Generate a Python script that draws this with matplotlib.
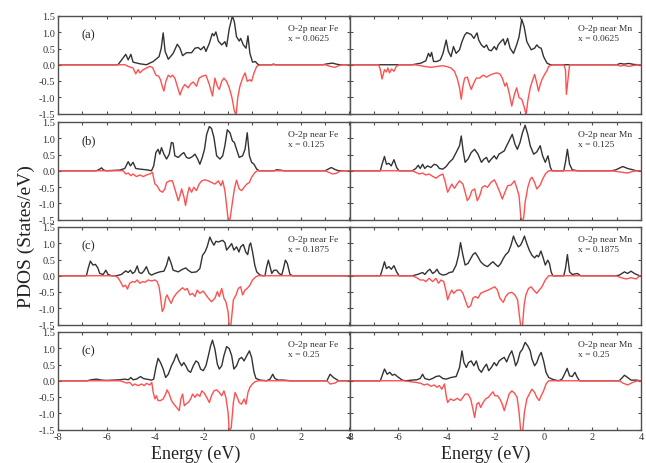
import numpy as np
import matplotlib
matplotlib.use('Agg')
import matplotlib.pyplot as plt
from matplotlib.ticker import MultipleLocator, FormatStrFormatter

plt.rcParams['font.family'] = ['Liberation Serif', 'DejaVu Serif']
plt.rcParams['axes.unicode_minus'] = False

# ---------------- data (energy in eV, PDOS in states/eV) ----------------
panel_labels = ['(a)', '(b)', '(c)', '(c)']
concentrations = ['0.0625', '0.125', '0.1875', '0.25']
sites = ['Fe', 'Mn']

fe_a_up = np.array([[-8,0],[-5.53,0],[-5.21,0.32],[-5.11,0.15],[-5.00,0.32],[-4.91,0.08],[-4.63,0.03],[-4.36,0.0],[-4.08,0.10],[-3.84,0.25],[-3.75,0.51],[-3.67,0.98],[-3.59,0.41],[-3.46,0.17],[-3.26,0.35],[-3.09,0.63],[-2.98,0.51],[-2.87,0.28],[-2.71,0.37],[-2.50,0.37],[-2.36,0.51],[-2.23,0.53],[-2.12,0.46],[-1.99,0.56],[-1.91,0.41],[-1.77,0.66],[-1.65,0.96],[-1.58,0.89],[-1.50,1.01],[-1.40,0.73],[-1.26,0.61],[-1.13,0.71],[-1.06,0.56],[-0.95,1.11],[-0.82,1.50],[-0.74,1.32],[-0.65,0.86],[-0.54,0.73],[-0.48,0.81],[-0.37,0.61],[-0.26,0.51],[-0.18,0.89],[-0.10,0.35],[0.01,0.08],[0.12,0.10],[0.25,0],[0.8,0],[0.87,0.02],[0.95,0],[2.9,0],[3.1,0.03],[3.3,0.05],[3.45,0.02],[3.6,0],[4,0]])
fe_a_dn = np.array([[-8,0],[-5.25,0],[-5.11,-0.05],[-4.91,-0.10],[-4.80,-0.28],[-4.70,-0.15],[-4.63,-0.25],[-4.49,-0.15],[-4.36,-0.10],[-4.22,-0.05],[-4.11,-0.08],[-3.97,-0.32],[-3.86,-0.35],[-3.78,-0.46],[-3.71,-0.66],[-3.64,-0.81],[-3.56,-0.51],[-3.46,-0.32],[-3.37,-0.38],[-3.29,-0.32],[-3.19,-0.41],[-3.09,-0.66],[-2.98,-0.93],[-2.87,-0.71],[-2.78,-0.61],[-2.64,-0.71],[-2.54,-0.59],[-2.43,-0.53],[-2.30,-0.66],[-2.19,-0.41],[-2.05,-0.35],[-1.91,-0.32],[-1.77,-0.61],[-1.64,-0.96],[-1.54,-0.41],[-1.44,-0.66],[-1.36,-0.76],[-1.26,-0.51],[-1.17,-0.41],[-1.06,-0.51],[-0.95,-0.71],[-0.84,-1.01],[-0.74,-1.42],[-0.67,-1.55],[-0.60,-1.01],[-0.51,-0.66],[-0.40,-0.41],[-0.30,-0.25],[-0.21,-0.51],[-0.10,-0.46],[-0.03,-0.51],[0.07,-0.25],[0.18,-0.05],[0.32,0],[3.0,0],[3.2,-0.05],[3.4,-0.08],[3.55,-0.03],[3.7,0],[4,0]])
mn_a_up = np.array([[-8,0],[-5.41,0],[-5.06,0.05],[-4.86,0.12],[-4.75,0.35],[-4.68,0.25],[-4.62,0.38],[-4.54,0.10],[-4.40,0.10],[-4.26,0.15],[-4.15,0.35],[-4.02,0.76],[-3.93,0.41],[-3.82,0.25],[-3.72,0.56],[-3.61,0.35],[-3.47,0.46],[-3.37,0.71],[-3.26,0.91],[-3.17,0.99],[-2.99,0.93],[-2.88,0.81],[-2.75,0.98],[-2.68,0.76],[-2.57,0.61],[-2.46,0.53],[-2.36,0.61],[-2.27,0.46],[-2.16,0.43],[-2.04,0.56],[-1.95,0.46],[-1.88,0.61],[-1.77,0.71],[-1.67,0.79],[-1.60,0.61],[-1.49,0.81],[-1.39,0.51],[-1.25,0.35],[-1.12,0.61],[-1.02,0.86],[-0.91,1.40],[-0.81,1.17],[-0.70,0.71],[-0.52,0.46],[-0.38,0.51],[-0.29,0.61],[-0.19,0.53],[-0.11,0.51],[-0.01,0.25],[0.13,0.05],[0.27,0],[3.0,0],[3.15,0.04],[3.3,0.02],[3.5,0.04],[3.7,0.01],[3.9,0],[4,0]])
mn_a_dn = np.array([[-8,0],[-6.80,0],[-6.73,-0.15],[-6.66,-0.44],[-6.56,-0.15],[-6.48,-0.22],[-6.42,-0.10],[-6.35,-0.25],[-6.27,-0.13],[-6.17,-0.20],[-6.07,-0.05],[-5.96,0],[-5.34,0],[-5.13,-0.02],[-4.93,-0.05],[-4.65,-0.08],[-4.37,-0.05],[-4.16,-0.03],[-4.02,-0.05],[-3.82,-0.10],[-3.68,-0.20],[-3.57,-0.41],[-3.47,-0.71],[-3.40,-1.06],[-3.33,-0.66],[-3.26,-0.41],[-3.15,-0.38],[-3.06,-0.61],[-2.99,-0.76],[-2.88,-0.56],[-2.78,-0.41],[-2.64,-0.41],[-2.50,-0.32],[-2.36,-0.38],[-2.22,-0.32],[-2.09,-0.28],[-1.95,-0.25],[-1.81,-0.28],[-1.71,-0.41],[-1.60,-0.66],[-1.53,-0.56],[-1.43,-0.86],[-1.32,-1.27],[-1.21,-0.91],[-1.12,-0.71],[-1.02,-1.01],[-0.91,-1.06],[-0.80,-1.32],[-0.73,-1.55],[-0.66,-1.11],[-0.56,-0.71],[-0.47,-0.49],[-0.38,-0.30],[-0.29,-0.56],[-0.22,-0.81],[-0.15,-0.61],[-0.08,-0.46],[0.03,-0.30],[0.13,-0.18],[0.20,-0.05],[0.34,0],[0.82,0],[0.89,-0.15],[0.93,-0.91],[1.00,-0.41],[1.06,0],[3.0,0],[3.15,-0.04],[3.3,-0.02],[3.5,-0.05],[3.7,-0.02],[3.9,0],[4,0]])

fe_b_up = np.array([[-8,0],[-6.42,0],[-6.28,0.05],[-6.21,0.09],[-6.12,0.02],[-6.0,0],[-5.46,0.02],[-5.25,0.07],[-5.11,0.28],[-5.02,0.15],[-4.91,0.26],[-4.80,0.07],[-4.63,0.05],[-4.36,0.03],[-4.15,0],[-4.06,0.15],[-3.97,0.56],[-3.88,0.66],[-3.81,0.51],[-3.74,0.71],[-3.64,0.51],[-3.53,0.36],[-3.42,0.51],[-3.33,0.87],[-3.26,0.85],[-3.19,0.46],[-3.05,0.41],[-2.91,0.51],[-2.82,0.56],[-2.71,0.41],[-2.60,0.38],[-2.46,0.44],[-2.36,0.51],[-2.25,0.36],[-2.16,0.20],[-2.06,0.41],[-1.97,0.66],[-1.88,1.12],[-1.77,1.36],[-1.68,1.30],[-1.58,1.02],[-1.47,0.46],[-1.33,0.36],[-1.22,0.46],[-1.13,0.77],[-1.03,1.26],[-0.92,1.17],[-0.82,0.92],[-0.74,0.87],[-0.65,0.66],[-0.54,0.41],[-0.40,0.46],[-0.30,0.66],[-0.21,1.17],[-0.12,0.46],[-0.03,0.26],[0.07,0.20],[0.18,0.05],[0.29,0],[0.9,0],[1.0,0.03],[1.15,0.02],[1.3,0],[3.0,0],[3.15,0.06],[3.25,0.10],[3.4,0.04],[3.55,0],[4,0]])
fe_b_dn = np.array([[-8,0],[-5.32,0],[-5.21,-0.10],[-5.11,-0.07],[-5.00,-0.15],[-4.91,-0.10],[-4.77,-0.18],[-4.63,-0.13],[-4.49,-0.18],[-4.36,-0.13],[-4.22,-0.10],[-4.11,-0.05],[-4.01,-0.41],[-3.92,-0.46],[-3.81,-0.61],[-3.70,-0.66],[-3.60,-0.56],[-3.53,-0.36],[-3.40,-0.31],[-3.29,-0.31],[-3.19,-0.56],[-3.05,-0.92],[-2.98,-0.77],[-2.91,-0.56],[-2.82,-0.79],[-2.75,-1.07],[-2.68,-0.77],[-2.60,-0.51],[-2.50,-0.66],[-2.41,-0.51],[-2.30,-0.61],[-2.19,-0.41],[-2.08,-0.31],[-1.95,-0.28],[-1.81,-0.31],[-1.68,-0.36],[-1.54,-0.41],[-1.40,-0.31],[-1.29,-0.46],[-1.22,-0.31],[-1.13,-0.61],[-1.06,-1.07],[-0.99,-1.55],[-0.92,-1.50],[-0.82,-0.97],[-0.74,-0.56],[-0.65,-0.29],[-0.54,-0.56],[-0.44,-0.61],[-0.34,-0.51],[-0.23,-0.41],[-0.12,-0.36],[-0.03,-0.20],[0.11,-0.05],[0.21,0],[3.0,0],[3.15,-0.05],[3.3,-0.10],[3.45,-0.08],[3.6,-0.02],[3.7,0],[4,0]])
mn_b_up = np.array([[-8,0],[-6.73,0],[-6.66,0.20],[-6.56,0.44],[-6.48,0.20],[-6.38,0.23],[-6.28,0.15],[-6.17,0.34],[-6.06,0.10],[-5.96,0],[-5.41,0],[-5.27,0.07],[-5.17,0.17],[-5.09,0.07],[-4.99,0.20],[-4.90,0.07],[-4.79,0.15],[-4.65,0.10],[-4.51,0.20],[-4.40,0.17],[-4.30,0.07],[-4.16,0.05],[-4.02,0.13],[-3.89,0.26],[-3.75,0.36],[-3.61,0.56],[-3.47,0.77],[-3.40,1.07],[-3.32,0.61],[-3.24,0.26],[-3.12,0.36],[-2.99,0.56],[-2.85,0.66],[-2.71,0.51],[-2.57,0.26],[-2.46,0.36],[-2.36,0.41],[-2.27,0.26],[-2.16,0.36],[-2.04,0.46],[-1.95,0.36],[-1.85,0.51],[-1.74,0.56],[-1.63,0.61],[-1.53,0.77],[-1.43,0.92],[-1.30,1.12],[-1.19,0.82],[-1.09,0.66],[-0.98,0.87],[-0.88,1.17],[-0.77,1.40],[-0.66,1.12],[-0.56,0.77],[-0.42,0.51],[-0.29,0.58],[-0.15,0.77],[-0.05,0.46],[0.06,0.26],[0.17,0.46],[0.27,0.10],[0.34,0],[0.82,0],[0.89,0.26],[0.97,0.66],[1.06,0.20],[1.17,0.03],[1.38,0],[2.8,0],[2.97,0.03],[3.25,0.13],[3.45,0.07],[3.66,0.03],[3.80,0],[4,0]])
mn_b_dn = np.array([[-8,0],[-5.41,0],[-5.27,-0.05],[-5.13,-0.10],[-4.99,-0.07],[-4.86,-0.13],[-4.72,-0.10],[-4.58,-0.17],[-4.44,-0.23],[-4.30,-0.15],[-4.16,-0.10],[-4.07,-0.31],[-3.96,-0.66],[-3.89,-0.56],[-3.79,-0.41],[-3.68,-0.54],[-3.57,-0.41],[-3.47,-0.31],[-3.33,-0.41],[-3.24,-0.66],[-3.15,-0.92],[-3.06,-0.82],[-2.96,-0.61],[-2.85,-0.56],[-2.74,-0.92],[-2.64,-0.77],[-2.54,-0.51],[-2.43,-0.46],[-2.32,-0.51],[-2.18,-0.36],[-2.04,-0.28],[-1.95,-0.41],[-1.81,-0.66],[-1.71,-0.87],[-1.60,-0.66],[-1.49,-0.46],[-1.35,-0.44],[-1.21,-0.31],[-1.12,-0.51],[-1.02,-0.77],[-0.95,-1.40],[-0.89,-1.55],[-0.83,-1.45],[-0.77,-0.97],[-0.66,-0.51],[-0.56,-0.26],[-0.49,-0.20],[-0.38,-0.36],[-0.29,-0.56],[-0.15,-0.44],[-0.05,-0.26],[0.06,-0.10],[0.20,0],[2.8,0],[2.97,-0.02],[3.25,-0.05],[3.45,-0.07],[3.66,-0.02],[3.80,0],[4,0]])

fe_c_up = np.array([[-8,0],[-6.83,0],[-6.76,0.22],[-6.67,0.45],[-6.56,0.33],[-6.46,0.35],[-6.36,0.24],[-6.28,0.07],[-6.14,0.04],[-6.03,0.17],[-5.94,0.04],[-5.80,0],[-5.59,0],[-5.39,0.04],[-5.21,0.15],[-5.11,0.10],[-5.02,0.17],[-4.93,0.07],[-4.84,0.12],[-4.74,0.30],[-4.66,0.10],[-4.56,0.07],[-4.47,0.14],[-4.36,0.28],[-4.25,0.07],[-4.15,0.02],[-4.01,0.07],[-3.81,0.12],[-3.64,0.14],[-3.53,0.33],[-3.44,0.58],[-3.34,0.38],[-3.26,0.17],[-3.05,0.12],[-2.87,0.20],[-2.74,0.24],[-2.64,0.17],[-2.50,0.10],[-2.30,0.12],[-2.16,0.22],[-2.05,0.63],[-1.95,0.73],[-1.86,0.89],[-1.75,1.19],[-1.66,1.04],[-1.58,0.94],[-1.50,1.06],[-1.40,1.04],[-1.22,1.09],[-1.13,1.02],[-1.06,0.79],[-0.95,0.89],[-0.85,0.99],[-0.76,0.79],[-0.65,0.89],[-0.55,0.73],[-0.48,0.89],[-0.37,0.96],[-0.27,0.73],[-0.19,0.65],[-0.12,0.94],[-0.07,1.01],[0.01,0.73],[0.10,0.33],[0.18,0.12],[0.32,0.02],[0.45,0],[0.52,0],[0.59,0.28],[0.66,0.48],[0.73,0.28],[0.80,0.07],[0.89,0.17],[1.00,0.17],[1.10,0.07],[1.21,0.02],[1.28,0.22],[1.36,0.48],[1.44,0.38],[1.55,0.04],[1.66,0],[4,0]])
fe_c_dn = np.array([[-8,0],[-5.66,0],[-5.53,-0.06],[-5.43,-0.18],[-5.32,-0.34],[-5.22,-0.29],[-5.14,-0.41],[-5.05,-0.23],[-4.93,-0.18],[-4.84,-0.20],[-4.74,-0.13],[-4.63,-0.23],[-4.52,-0.18],[-4.41,-0.20],[-4.29,-0.13],[-4.15,-0.16],[-4.01,-0.13],[-3.92,-0.18],[-3.84,-0.34],[-3.78,-0.64],[-3.71,-1.10],[-3.64,-1.00],[-3.57,-0.69],[-3.51,-0.59],[-3.42,-0.74],[-3.34,-0.85],[-3.26,-0.69],[-3.12,-0.54],[-2.98,-0.44],[-2.87,-0.37],[-2.76,-0.44],[-2.68,-0.39],[-2.57,-0.59],[-2.46,-0.54],[-2.36,-0.64],[-2.27,-0.44],[-2.16,-0.54],[-2.02,-0.47],[-1.91,-0.59],[-1.81,-0.69],[-1.68,-0.80],[-1.54,-0.69],[-1.44,-0.49],[-1.36,-0.64],[-1.26,-0.39],[-1.17,-0.69],[-1.09,-0.80],[-1.00,-1.10],[-0.95,-1.55],[-0.88,-1.50],[-0.78,-0.74],[-0.67,-0.59],[-0.58,-0.39],[-0.48,-0.34],[-0.40,-0.59],[-0.30,-0.44],[-0.21,-0.39],[-0.10,-0.29],[0.01,-0.13],[0.15,-0.03],[0.25,0],[4,0]])
mn_c_up = np.array([[-8,0],[-6.73,0],[-6.66,0.17],[-6.56,0.43],[-6.48,0.22],[-6.38,0.28],[-6.28,0.20],[-6.17,0.31],[-6.06,0.12],[-5.96,0],[-5.41,0],[-5.20,0.04],[-4.99,0.10],[-4.90,0.04],[-4.79,0.14],[-4.69,0.20],[-4.58,0.07],[-4.48,0.12],[-4.40,0.20],[-4.30,0.07],[-4.16,0.02],[-4.02,0.04],[-3.89,0.10],[-3.75,0.12],[-3.61,0.33],[-3.51,0.63],[-3.43,1.02],[-3.33,0.63],[-3.24,0.33],[-3.12,0.38],[-3.01,0.53],[-2.92,0.65],[-2.82,0.71],[-2.71,0.58],[-2.60,0.43],[-2.46,0.33],[-2.32,0.28],[-2.18,0.38],[-2.09,0.43],[-1.99,0.35],[-1.88,0.28],[-1.77,0.38],[-1.67,0.53],[-1.57,0.65],[-1.46,0.73],[-1.35,0.94],[-1.25,1.22],[-1.16,1.04],[-1.05,0.89],[-0.96,0.94],[-0.88,1.06],[-0.80,1.22],[-0.70,0.99],[-0.60,0.79],[-0.49,0.63],[-0.38,0.55],[-0.29,0.63],[-0.22,0.58],[-0.12,0.76],[-0.04,0.58],[0.06,0.33],[0.16,0.48],[0.23,0.38],[0.30,0.12],[0.37,0],[0.82,0],[0.89,0.22],[0.97,0.65],[1.06,0.12],[1.17,0.04],[1.38,0.07],[1.52,0],[2.97,0],[3.11,0.02],[3.32,0.12],[3.45,0.07],[3.59,0.14],[3.73,0.07],[3.94,0],[4,0]])
mn_c_dn = np.array([[-8,0],[-5.41,0],[-5.23,-0.06],[-5.09,-0.13],[-4.95,-0.13],[-4.86,-0.18],[-4.72,-0.08],[-4.58,-0.18],[-4.44,-0.08],[-4.34,-0.23],[-4.23,-0.13],[-4.12,-0.18],[-4.02,-0.49],[-3.96,-0.74],[-3.89,-0.59],[-3.79,-0.44],[-3.71,-0.54],[-3.57,-0.44],[-3.43,-0.44],[-3.33,-0.54],[-3.24,-0.74],[-3.12,-0.98],[-3.01,-0.92],[-2.92,-0.69],[-2.82,-0.64],[-2.71,-0.69],[-2.60,-0.54],[-2.46,-0.49],[-2.29,-0.44],[-2.16,-0.39],[-2.02,-0.34],[-1.91,-0.44],[-1.81,-0.69],[-1.67,-0.82],[-1.57,-0.64],[-1.46,-0.54],[-1.32,-0.51],[-1.19,-0.59],[-1.08,-0.74],[-1.01,-1.20],[-0.95,-1.55],[-0.88,-1.55],[-0.81,-0.90],[-0.74,-0.59],[-0.63,-0.39],[-0.52,-0.34],[-0.42,-0.44],[-0.29,-0.54],[-0.19,-0.44],[-0.08,-0.34],[0.06,-0.13],[0.20,0],[2.97,0],[3.18,-0.06],[3.39,-0.10],[3.59,-0.06],[3.80,-0.10],[3.94,0],[4,0]])

fe_d_up = np.array([[-8,0],[-6.80,0],[-6.63,0.03],[-6.42,0.05],[-6.21,0.02],[-6.00,0.01],[-5.73,0.02],[-5.46,0.03],[-5.25,0.05],[-5.11,0.03],[-5.00,0.10],[-4.91,0.03],[-4.77,0.05],[-4.60,0.13],[-4.49,0.07],[-4.36,0.05],[-4.15,0.02],[-4.06,0.05],[-3.97,0.41],[-3.88,0.69],[-3.78,0.56],[-3.67,0.36],[-3.57,0.10],[-3.46,0.20],[-3.33,0.46],[-3.23,0.61],[-3.12,0.82],[-3.02,0.61],[-2.91,0.46],[-2.82,0.56],[-2.74,0.46],[-2.64,0.31],[-2.54,0.26],[-2.43,0.46],[-2.32,0.61],[-2.23,0.56],[-2.13,0.36],[-2.02,0.31],[-1.91,0.46],[-1.81,0.77],[-1.72,1.07],[-1.64,1.25],[-1.54,0.97],[-1.44,0.51],[-1.36,0.36],[-1.26,0.46],[-1.17,0.77],[-1.06,1.05],[-0.95,0.99],[-0.85,0.77],[-0.76,0.36],[-0.65,0.46],[-0.54,0.67],[-0.44,0.72],[-0.34,0.61],[-0.23,0.77],[-0.12,0.92],[-0.03,0.72],[0.07,0.26],[0.15,0.07],[0.32,0.02],[0.59,0],[0.73,0.05],[0.84,0.20],[0.93,0.07],[1.07,0.02],[1.28,0.02],[1.55,0],[3.07,0],[3.20,0.20],[3.34,0.10],[3.55,0],[4,0]])
fe_d_dn = np.array([[-8,0],[-5.46,0],[-5.32,-0.03],[-5.18,-0.07],[-5.05,-0.05],[-4.93,-0.15],[-4.84,-0.10],[-4.70,-0.15],[-4.56,-0.10],[-4.45,-0.15],[-4.36,-0.08],[-4.22,-0.13],[-4.14,-0.05],[-4.08,-0.36],[-4.01,-0.56],[-3.95,-0.46],[-3.88,-0.61],[-3.78,-0.61],[-3.67,-0.56],[-3.57,-0.41],[-3.51,-0.28],[-3.42,-0.41],[-3.33,-0.61],[-3.23,-0.72],[-3.12,-0.82],[-3.01,-0.92],[-2.94,-0.56],[-2.87,-0.41],[-2.80,-0.77],[-2.74,-0.72],[-2.64,-0.67],[-2.54,-0.56],[-2.46,-0.41],[-2.36,-0.51],[-2.27,-0.41],[-2.16,-0.48],[-2.08,-0.31],[-1.98,-0.38],[-1.88,-0.51],[-1.77,-0.67],[-1.68,-0.46],[-1.58,-0.31],[-1.47,-0.28],[-1.36,-0.36],[-1.26,-0.46],[-1.17,-0.31],[-1.09,-0.51],[-1.00,-0.97],[-0.95,-1.55],[-0.87,-1.45],[-0.78,-0.67],[-0.71,-0.36],[-0.62,-0.51],[-0.54,-0.67],[-0.44,-0.72],[-0.34,-0.56],[-0.26,-0.72],[-0.18,-0.36],[-0.10,-0.20],[0.00,-0.10],[0.11,-0.03],[0.25,0],[3.07,0],[3.20,-0.10],[3.41,-0.07],[3.55,0],[4,0]])
mn_d_up = np.array([[-8,0],[-6.73,0],[-6.66,0.15],[-6.56,0.36],[-6.45,0.20],[-6.34,0.26],[-6.24,0.17],[-6.14,0.20],[-6.03,0.13],[-5.92,0.07],[-5.83,0.02],[-5.69,0],[-5.41,0.02],[-5.23,0.03],[-5.09,0.07],[-4.99,0.20],[-4.90,0.07],[-4.72,0.03],[-4.58,0.07],[-4.44,0.13],[-4.30,0.15],[-4.16,0.07],[-4.02,0.05],[-3.82,0.10],[-3.61,0.13],[-3.47,0.41],[-3.37,0.92],[-3.29,0.56],[-3.19,0.41],[-3.10,0.56],[-2.99,0.61],[-2.88,0.46],[-2.78,0.61],[-2.68,0.36],[-2.57,0.26],[-2.46,0.41],[-2.36,0.51],[-2.27,0.31],[-2.16,0.41],[-2.04,0.56],[-1.95,0.46],[-1.84,0.61],[-1.74,0.67],[-1.63,0.72],[-1.53,0.58],[-1.43,0.77],[-1.32,0.92],[-1.24,0.72],[-1.16,0.46],[-1.08,0.58],[-0.98,0.87],[-0.88,0.97],[-0.77,1.18],[-0.66,1.07],[-0.56,0.92],[-0.49,0.67],[-0.38,0.46],[-0.29,0.56],[-0.19,0.77],[-0.11,0.87],[-0.01,0.61],[0.09,0.26],[0.20,0.10],[0.34,0.05],[0.48,0.02],[0.61,0],[0.75,0.05],[0.85,0.20],[0.96,0.38],[1.06,0.15],[1.17,0.13],[1.28,0.26],[1.38,0.10],[1.47,0],[3.11,0],[3.32,0.17],[3.45,0.10],[3.59,0.02],[3.80,0.02],[4,0]])
mn_d_dn = np.array([[-8,0],[-5.76,0],[-5.48,-0.03],[-5.27,-0.05],[-5.06,-0.08],[-4.93,-0.13],[-4.79,-0.10],[-4.65,-0.17],[-4.51,-0.13],[-4.40,-0.20],[-4.30,-0.15],[-4.20,-0.26],[-4.09,-0.10],[-4.02,-0.46],[-3.96,-0.67],[-3.85,-0.56],[-3.71,-0.61],[-3.57,-0.54],[-3.43,-0.61],[-3.33,-0.51],[-3.24,-0.41],[-3.12,-0.41],[-3.01,-0.56],[-2.92,-0.87],[-2.85,-1.13],[-2.76,-0.72],[-2.68,-0.67],[-2.60,-0.82],[-2.50,-0.67],[-2.40,-0.56],[-2.29,-0.51],[-2.18,-0.41],[-2.09,-0.34],[-2.02,-0.46],[-1.91,-0.46],[-1.81,-0.56],[-1.71,-0.72],[-1.63,-0.92],[-1.53,-0.67],[-1.43,-0.41],[-1.32,-0.31],[-1.21,-0.38],[-1.10,-0.51],[-1.02,-0.97],[-0.95,-1.55],[-0.87,-1.55],[-0.80,-0.97],[-0.70,-0.56],[-0.60,-0.41],[-0.49,-0.26],[-0.38,-0.36],[-0.29,-0.51],[-0.19,-0.61],[-0.11,-0.46],[-0.01,-0.31],[0.09,-0.10],[0.20,0],[3.11,0],[3.25,-0.07],[3.45,-0.13],[3.66,-0.05],[3.87,0],[4,0]])

spin_up = [[fe_a_up, mn_a_up], [fe_b_up, mn_b_up], [fe_c_up, mn_c_up], [fe_d_up, mn_d_up]]
spin_dn = [[fe_a_dn, mn_a_dn], [fe_b_dn, mn_b_dn], [fe_c_dn, mn_c_dn], [fe_d_dn, mn_d_dn]]

# ---------------- figure ----------------
W, H = 646, 464
fig = plt.figure(figsize=(W / 100, H / 100), dpi=100)

col_left_px = [58, 349.5]
col_w_px = 291.5
row_top_px = [17, 123, 228, 333]
row_h_px = 97.5

frame_col = '#505050'
up_col = '#333333'
dn_col = '#ff5050'

for r in range(4):
    for c in range(2):
        x0 = col_left_px[c] / W
        y0 = 1 - (row_top_px[r] + row_h_px) / H
        ax = fig.add_axes([x0, y0, col_w_px / W, row_h_px / H])
        up = spin_up[r][c]
        dn = spin_dn[r][c]
        ax.plot(up[:, 0], up[:, 1], color=up_col, lw=1.0)
        ax.plot(dn[:, 0], dn[:, 1], color=dn_col, lw=1.0)
        ax.set_xlim(-8, 4)
        ax.set_ylim(-1.5, 1.5)
        ax.xaxis.set_major_locator(MultipleLocator(2))
        ax.xaxis.set_minor_locator(MultipleLocator(1))
        ax.yaxis.set_major_locator(MultipleLocator(0.5))
        ax.yaxis.set_major_formatter(FormatStrFormatter('%.1f'))
        ax.xaxis.set_major_formatter(FormatStrFormatter('%d'))
        ax.tick_params(which='both', direction='in', top=True, right=True,
                       length=2.5, width=0.8, color=frame_col,
                       labelsize=7.5, labelcolor='#333333', pad=2)
        for sp in ax.spines.values():
            sp.set_color(frame_col)
            sp.set_linewidth(1.0)
        if c == 1:
            ax.tick_params(labelleft=False)
        if r < 3:
            ax.tick_params(labelbottom=False)
        if c == 0:
            ax.text(-7.05, 0.95, panel_labels[r], fontsize=9, color='#222222',
                    ha='left', va='center')
        ax.text(1.45 if c == 0 else 1.4, 1.25,
                'O-2p near %s\nx = %s' % (sites[c], concentrations[r]),
                fontsize=6.8, color='#333333', ha='left', va='top',
                linespacing=1.25)

fig.text(26 / W, 1 - 237 / H, 'PDOS (States/eV)', rotation=90, fontsize=14,
         ha='center', va='center', color='#222222')
fig.text(196 / W, 1 - 454 / H, 'Energy (eV)', fontsize=13,
         ha='center', va='center', color='#222222')
fig.text(486 / W, 1 - 454 / H, 'Energy (eV)', fontsize=13,
         ha='center', va='center', color='#222222')

fig.savefig('out.png', dpi=100)
